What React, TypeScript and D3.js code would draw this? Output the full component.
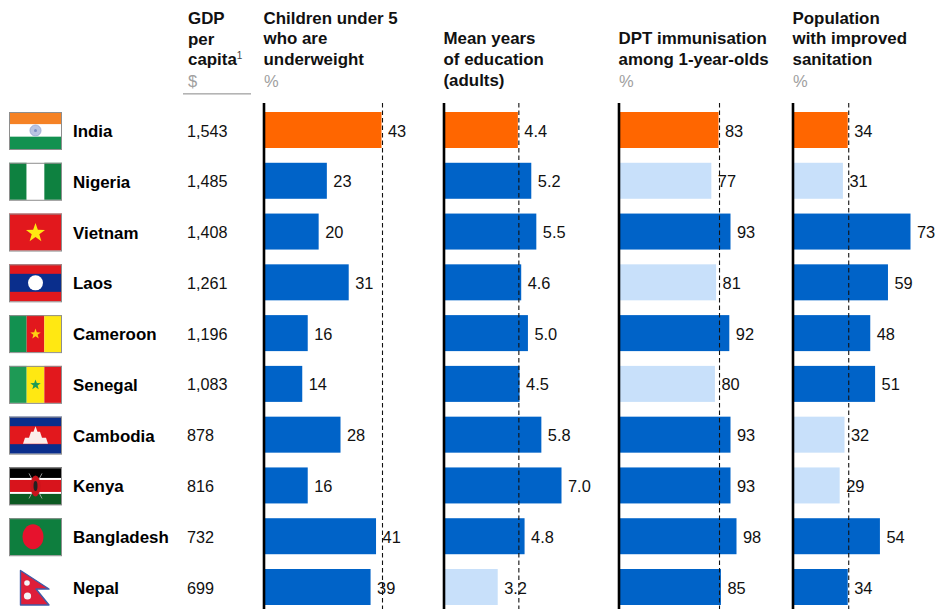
import React from "react";
import * as d3 from "d3";

const countries = ["India","Nigeria","Vietnam","Laos","Cameroon","Senegal","Cambodia","Kenya","Bangladesh","Nepal"];
const gdp = ["1,543","1,485","1,408","1,261","1,196","1,083","878","816","732","699"];
const underweight = [43,23,20,31,16,14,28,16,41,39];
const education = [4.4,5.2,5.5,4.6,5.0,4.5,5.8,7.0,4.8,3.2];
const dpt = [83,77,93,81,92,80,93,93,98,85];
const sanitation = [34,31,73,59,48,51,32,29,54,34];
// 0 = highlighted, 1 = better than India, 2 = worse than India
const underweightTone = [0,1,1,1,1,1,1,1,1,1];
const educationTone = [0,1,1,1,1,1,1,1,1,2];
const dptTone = [0,2,1,2,1,2,1,1,1,1];
const sanitationTone = [0,2,1,1,1,1,2,2,1,1];
const toneColors = ["#FF6600","#0063C8","#C8E0FA"];

const F = "'Liberation Sans', Arial, sans-serif";
const rowY = d3.scaleLinear().domain([0, 9]).range([130, 587]);
const BAR_H = 36;

function star(cx: number, cy: number, r: number) {
  const pts = d3.range(10).map((i) => {
    const a = -Math.PI / 2 + (i * Math.PI) / 5;
    const q = i % 2 ? r * 0.4 : r;
    return `${cx + q * Math.cos(a)},${cy + q * Math.sin(a)}`;
  });
  return pts.join(" ");
}

function Flag({ name }: { name: string }) {
  const W = 53, H = 37;
  const h3 = (a: string, b: string, c: string) => (
    <>
      <rect width={W} height={H / 3} fill={a} />
      <rect y={H / 3} width={W} height={H / 3} fill={b} />
      <rect y={(2 * H) / 3} width={W} height={H / 3} fill={c} />
    </>
  );
  const v3 = (a: string, b: string, c: string) => (
    <>
      <rect width={W / 3} height={H} fill={a} />
      <rect x={W / 3} width={W / 3} height={H} fill={b} />
      <rect x={(2 * W) / 3} width={W / 3} height={H} fill={c} />
    </>
  );
  let body: React.ReactNode = null;
  if (name === "India") body = (<>{h3("#F58225","#FFFFFF","#129150")}<circle cx={26.5} cy={18.5} r={5.5} fill="#B9C4E2" stroke="#9FAED6" strokeWidth={1} /><circle cx={26.5} cy={18.5} r={1.5} fill="#7B8FC4" /></>);
  if (name === "Nigeria") body = v3("#0E8140","#FFFFFF","#0E8140");
  if (name === "Vietnam") body = (<><rect width={W} height={H} fill="#E2181D" /><polygon points={star(26.5,19.5,10)} fill="#FFE812" /></>);
  if (name === "Laos") body = (<><rect width={W} height={H} fill="#E2181D" /><rect y={9.5} width={W} height={18} fill="#0A2E8C" /><circle cx={26.5} cy={18.5} r={7.5} fill="#FFFFFF" /></>);
  if (name === "Cameroon") body = (<>{v3("#129150","#E2181D","#FFE812")}<polygon points={star(26.5,19,5.5)} fill="#FFD012" /></>);
  if (name === "Senegal") body = (<>{v3("#1E9A55","#FFE812","#E2181D")}<polygon points={star(26.5,19,5.5)} fill="#1E9A55" /></>);
  if (name === "Cambodia") body = (<><rect width={W} height={H} fill="#0A2E8C" /><rect y={9.5} width={W} height={18} fill="#E2181D" /><polygon points="14,27 16,21 20,21 22,15 24.5,15 26.5,9.5 28.5,15 31,15 33,21 37,21 39,27" fill="#FBEDEA" /></>);
  if (name === "Kenya") body = (<>
    <rect width={W} height={H} fill="#000000" />
    <rect y={10.5} width={W} height={16} fill="#FFFFFF" />
    <rect y={12.5} width={W} height={12} fill="#D8141C" />
    <rect y={26.5} width={W} height={10.5} fill="#0C5A22" />
    <path d="M20,6 L33,31 M33,6 L20,31" stroke="#B9B9B9" strokeWidth={0.8} />
    <ellipse cx={26.5} cy={18.5} rx={5} ry={10.5} fill="#C8141C" />
    <ellipse cx={26.5} cy={18.5} rx={2} ry={5} fill="#222" />
  </>);
  if (name === "Bangladesh") body = (<><rect width={W} height={H} fill="#0E7E3E" /><ellipse cx={24} cy={18.5} rx={10.5} ry={12.5} fill="#E6122D" /></>);
  if (name === "Nepal") return (
    <g>
      <path d="M11.5,1.5 L40,20 L27,20 L40,36 L11.5,36 Z" fill="#DE1E3A" stroke="#3F5BA6" strokeWidth={1.4} strokeLinejoin="round" />
      <circle cx={18} cy={14} r={2.8} fill="#F4F4F8" />
      <circle cx={18.5} cy={27} r={3.6} fill="#F4F4F8" />
    </g>
  );
  return (
    <g>
      {body}
      <rect x={0.5} y={0.5} width={W - 1} height={H} fill="none" stroke="#8E8E8E" strokeWidth={1} />
    </g>
  );
}

type Col = { x: number; title: string[]; unit: string; values: number[]; tones: number[]; scale: d3.ScaleLinear<number, number>; fmt: (v: number) => string; ref: number };
const asInt = (v: number) => String(v);
const asDec = d3.format(".1f");
const makeScale = (x: number, ratioMax: number) => d3.scaleLinear().domain([0, ratioMax]).range([x, x + 117.5]);

const columns: Col[] = [
  { x: 264, title: ["Children under 5","who are","underweight"], unit: "%", values: underweight, tones: underweightTone, scale: makeScale(264, 43), fmt: asInt, ref: 43 },
  { x: 444, title: ["Mean years","of education","(adults)"], unit: "", values: education, tones: educationTone, scale: makeScale(444, 7), fmt: asDec, ref: 4.4 },
  { x: 619, title: ["DPT immunisation","among 1-year-olds"], unit: "%", values: dpt, tones: dptTone, scale: makeScale(619, 98), fmt: asInt, ref: 83 },
  { x: 793, title: ["Population","with improved","sanitation"], unit: "%", values: sanitation, tones: sanitationTone, scale: makeScale(793, 73), fmt: asInt, ref: 34 },
];

const LINE = 20.6;
const LAST_BASE = 85.5;
const HEAD = 16.9;

export default function App() {
  return (
    <svg width={939} height={609} style={{ position: "absolute", left: 0, top: 0, background: "#fff" }} fontFamily={F}>
      <g fontSize={HEAD} fontWeight="bold" fill="#111">
        <text x={188} y={24}>GDP</text>
        <text x={188} y={44.5}>per</text>
        <text x={188} y={65}>capita<tspan fontSize={10} fontWeight="normal" fill="#444" dy={-6}>1</tspan></text>
      </g>
      <text x={188} y={86.5} fontSize={16.5} fill="#A0A0A0">$</text>
      <rect x={183} y={93} width={68} height={1.6} fill="#B4B4B4" />

      {countries.map((c, i) => (
        <g key={c}>
          <g transform={`translate(9,${rowY(i) - 18})`}><Flag name={c} /></g>
          <text x={73} y={rowY(i) + 7} fontSize={16.9} fontWeight="bold" fill="#000">{c}</text>
          <text x={187} y={rowY(i) + 6.5} fontSize={16.2} fill="#111">{gdp[i]}</text>
        </g>
      ))}

      {columns.map((col) => {
        const lines = col.title;
        const titleBottom = col.unit ? LAST_BASE - LINE : LAST_BASE;
        return (
          <g key={col.x}>
            <g fontSize={HEAD} fontWeight="bold" fill="#111">
              {lines.map((t, k) => (
                <text key={t} x={col.x - 0.5} y={titleBottom - (lines.length - 1 - k) * LINE}>{t}</text>
              ))}
            </g>
            {col.unit && <text x={col.x} y={LAST_BASE + 1} fontSize={16.5} fill="#A0A0A0">{col.unit}</text>}
            {col.values.map((v, i) => (
              <rect key={i} x={col.x} y={rowY(i) - BAR_H / 2} width={col.scale(v) - col.x} height={BAR_H} fill={toneColors[col.tones[i]]} />
            ))}
            <line x1={col.scale(col.ref) + 1} x2={col.scale(col.ref) + 1} y1={103} y2={609} stroke="#111" strokeWidth={1.1} strokeDasharray="4.5 3" />
            <line x1={col.x} x2={col.x} y1={103} y2={609} stroke="#000" strokeWidth={2.6} />
            {col.values.map((v, i) => (
              <text key={i} x={col.scale(v) + 6.5} y={rowY(i) + 6.6} fontSize={16.4} fill="#111">{col.fmt(v)}</text>
            ))}
          </g>
        );
      })}
    </svg>
  );
}
